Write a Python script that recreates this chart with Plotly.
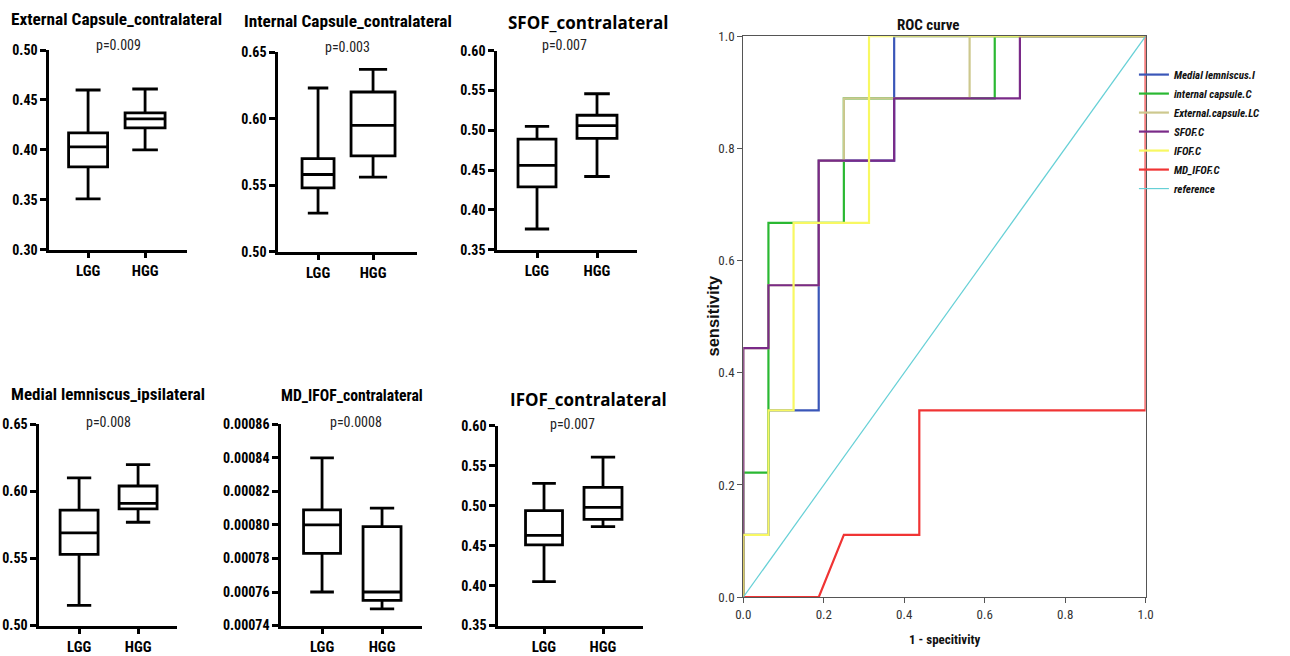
import plotly.graph_objects as go

# Figure fills the 1290x656 window; the page keeps the browser's default 8px body
# margin, so the captured page (1306x672) is shrunk back to the window size.
# Layout positions below are given in window pixels and converted here.
FW, FH, PAD = 1290, 656, 8
SX = FW / (FW + 2 * PAD)
SY = FH / (FH + 2 * PAD)


def px_x(p):
    return (p / SX - PAD) / FW


def px_y(p):
    return 1 - (p / SY - PAD) / FH


NARROW = "Roboto Condensed, Liberation Sans Narrow, Arial Narrow, Liberation Sans, Arial, sans-serif"
WIDE = "Open Sans, Noto Sans, Liberation Sans, Arial, sans-serif"
PLAIN = "Liberation Sans, Arial, sans-serif"

groups = ["LGG", "HGG"]

# five-number summaries per tract: [min, Q1, median, Q3, max]
ec_lgg = [0.351, 0.383, 0.403, 0.417, 0.460]
ec_hgg = [0.400, 0.422, 0.431, 0.437, 0.461]
ic_lgg = [0.529, 0.548, 0.558, 0.570, 0.623]
ic_hgg = [0.556, 0.572, 0.595, 0.620, 0.637]
sfof_lgg = [0.376, 0.429, 0.456, 0.489, 0.505]
sfof_hgg = [0.442, 0.490, 0.506, 0.519, 0.546]
ml_lgg = [0.515, 0.553, 0.569, 0.586, 0.610]
ml_hgg = [0.577, 0.587, 0.591, 0.604, 0.620]
md_ifof_lgg = [0.000760, 0.000783, 0.000800, 0.000809, 0.000840]
md_ifof_hgg = [0.000750, 0.000755, 0.000760, 0.000799, 0.000810]
ifof_lgg = [0.405, 0.451, 0.463, 0.494, 0.528]
ifof_hgg = [0.474, 0.483, 0.498, 0.523, 0.561]

panel_titles = ["External Capsule_contralateral", "Internal Capsule_contralateral",
                "SFOF_contralateral", "Medial lemniscus_ipsilateral",
                "MD_IFOF_contralateral", "IFOF_contralateral"]
p_values = ["p=0.009", "p=0.003", "p=0.007", "p=0.008", "p=0.0008", "p=0.007"]

# ROC curves: 1 - specificity (x) and sensitivity (y)
roc_names = ["Medial lemniscus.I", "internal capsule.C", "External.capsule.LC",
             "SFOF.C", "IFOF.C", "MD_IFOF.C", "reference"]
fpr_ml = [0, 0, 0.0625, 0.0625, 0.125, 0.1875, 0.1875, 0.375, 0.375, 1.0]
tpr_ml = [0, 0.111, 0.111, 0.333, 0.333, 0.333, 0.778, 0.778, 1.0, 1.0]
fpr_ic = [0, 0, 0.0625, 0.0625, 0.25, 0.25, 0.625, 0.625, 1.0]
tpr_ic = [0, 0.222, 0.222, 0.667, 0.667, 0.889, 0.889, 1.0, 1.0]
fpr_ec = [0, 0, 0.0625, 0.0625, 0.1875, 0.1875, 0.25, 0.25, 0.5625, 0.5625, 1.0]
tpr_ec = [0, 0.444, 0.444, 0.556, 0.556, 0.778, 0.778, 0.889, 0.889, 1.0, 1.0]
fpr_sfof = [0, 0, 0.0625, 0.0625, 0.1875, 0.1875, 0.375, 0.375, 0.6875, 0.6875, 1.0]
tpr_sfof = [0, 0.444, 0.444, 0.556, 0.556, 0.778, 0.778, 0.889, 0.889, 1.0, 1.0]
fpr_ifof = [0, 0, 0.0625, 0.0625, 0.125, 0.125, 0.3125, 0.3125, 1.0]
tpr_ifof = [0, 0.111, 0.111, 0.333, 0.333, 0.667, 0.667, 1.0, 1.0]
fpr_md = [0, 0.1875, 0.25, 0.4375, 0.4375, 1.0, 1.0]
tpr_md = [0, 0, 0.111, 0.111, 0.333, 0.333, 1.0]
fpr_ref = [0, 1]
tpr_ref = [0, 1]

roc_colors = ["#3a56b8", "#2ab832", "#cdc88e", "#7a2a88", "#f8f862", "#f03434", "#66d0d6"]

# ---- box panel geometry (window pixels): axis x0/x1, LGG/HGG centres, y-axis top/bottom
box_layout = [
    dict(x0=49, x1=187, c0=88, c1=145, yt=50, yb=250, yr=[0.30, 0.50], dt=0.05, fmt=".2f",
         bw=(39, 40), tpos=(116, 19), tfont=(NARROW, 17.3), ppos=(118, 45)),
    dict(x0=278, x1=417, c0=318, c1=373, yt=52, yb=252, yr=[0.50, 0.65], dt=0.05, fmt=".2f",
         bw=(32, 44), tpos=(348, 21), tfont=(NARROW, 17.3), ppos=(347, 47)),
    dict(x0=497, x1=637, c0=537, c1=597, yt=50.7, yb=250, yr=[0.35, 0.60], dt=0.05, fmt=".2f",
         bw=(38, 40), tpos=(588, 22), tfont=(WIDE, 17), ppos=(564, 45)),
    dict(x0=39, x1=177, c0=79, c1=138, yt=425, yb=626.7, yr=[0.50, 0.65], dt=0.05, fmt=".2f",
         bw=(38, 38), tpos=(108, 395), tfont=(NARROW, 17), ppos=(108, 423)),
    dict(x0=281, x1=422, c0=322, c1=382, yt=425, yb=626.7, yr=[0.00074, 0.00086], dt=0.00002,
         fmt=".5f", bw=(37, 38), tpos=(352, 396), tfont=(NARROW, 15.7), ppos=(356, 423)),
    dict(x0=498, x1=643, c0=544, c1=603, yt=426.7, yb=626.7, yr=[0.35, 0.60], dt=0.05, fmt=".2f",
         bw=(37, 38), tpos=(588, 400), tfont=(WIDE, 17), ppos=(572, 425)),
]
box_data = [(ec_lgg, ec_hgg), (ic_lgg, ic_hgg), (sfof_lgg, sfof_hgg),
            (ml_lgg, ml_hgg), (md_ifof_lgg, md_ifof_hgg), (ifof_lgg, ifof_hgg)]

fig = go.Figure()
layout = dict(width=FW, height=FH, margin=dict(l=0, r=0, t=0, b=0),
              paper_bgcolor="white", plot_bgcolor="white",
              font=dict(family=NARROW, color="black"), annotations=[])

for i, (geo, (lgg, hgg)) in enumerate(zip(box_layout, box_data)):
    n = i + 1
    xa, ya = f"x{n}", f"y{n}"
    sp = geo["c1"] - geo["c0"]
    for k, (vals, grp) in enumerate(zip((lgg, hgg), groups)):
        fig.add_trace(go.Box(
            x=[k], lowerfence=[vals[0]], q1=[vals[1]], median=[vals[2]],
            q3=[vals[3]], upperfence=[vals[4]], name=grp,
            width=geo["bw"][k] / sp, whiskerwidth=0.64,
            boxpoints=False, fillcolor="rgba(255,255,255,0)",
            line=dict(color="black", width=2.8),
            xaxis=xa, yaxis=ya, showlegend=False, hoverinfo="skip"))
    axis_common = dict(showgrid=False, zeroline=False, showline=True, linecolor="black",
                       linewidth=2.5, ticks="outside", ticklen=6, tickwidth=2.5,
                       tickcolor="black")
    layout[f"xaxis{n}"] = dict(
        domain=[px_x(geo["x0"]), px_x(geo["x1"])], anchor=ya,
        range=[(geo["x0"] - geo["c0"]) / sp, (geo["x1"] - geo["c0"]) / sp],
        tickvals=[0, 1], ticktext=groups,
        tickfont=dict(size=15, family=NARROW, weight="bold"), **axis_common)
    layout[f"yaxis{n}"] = dict(
        domain=[px_y(geo["yb"]), px_y(geo["yt"])], anchor=xa,
        range=geo["yr"], dtick=geo["dt"], tick0=geo["yr"][0], tickformat=geo["fmt"],
        tickfont=dict(size=14, family=NARROW, weight="bold"), **axis_common)
    layout["annotations"].append(dict(
        text=panel_titles[i], xref="paper", yref="paper",
        x=px_x(geo["tpos"][0]), y=px_y(geo["tpos"][1]), showarrow=False,
        xanchor="center", yanchor="middle",
        font=dict(size=geo["tfont"][1], family=geo["tfont"][0], weight="bold", color="black")))
    layout["annotations"].append(dict(
        text=p_values[i], xref="paper", yref="paper",
        x=px_x(geo["ppos"][0]), y=px_y(geo["ppos"][1]), showarrow=False,
        xanchor="center", yanchor="middle",
        font=dict(size=14, family=NARROW, color="#222")))

# ---- ROC panel
roc_x = [fpr_ml, fpr_ic, fpr_ec, fpr_sfof, fpr_ifof, fpr_md, fpr_ref]
roc_y = [tpr_ml, tpr_ic, tpr_ec, tpr_sfof, tpr_ifof, tpr_md, tpr_ref]
for name, xs, ys, col in zip(roc_names, roc_x, roc_y, roc_colors):
    fig.add_trace(go.Scatter(
        x=xs, y=ys, mode="lines", name=name,
        line=dict(color=col, width=1.2 if name == "reference" else 2.2),
        xaxis="x7", yaxis="y7", hoverinfo="skip"))

roc_axis = dict(showgrid=False, zeroline=False, showline=True, linecolor="#555",
                linewidth=1.2, mirror=True, ticks="outside", ticklen=5, tickwidth=1.2,
                tickcolor="#555", range=[0, 1], dtick=0.2, tickformat=".1f",
                tickfont=dict(size=13, family=NARROW, color="#333"))
layout["xaxis7"] = dict(domain=[px_x(743.3), px_x(1145.7)], anchor="y7", **roc_axis)
layout["yaxis7"] = dict(domain=[px_y(598.3), px_y(36)], anchor="x7", **roc_axis)
layout["annotations"].append(dict(
    text="1 - specitivity", xref="paper", yref="paper", x=px_x(945), y=px_y(641),
    showarrow=False, xanchor="center", yanchor="middle",
    font=dict(size=13, family=NARROW, weight="bold", color="#111")))
layout["annotations"].append(dict(
    text="sensitivity", xref="paper", yref="paper", x=px_x(713), y=px_y(316),
    textangle=-90, showarrow=False, xanchor="center", yanchor="middle",
    font=dict(size=16.5, family=PLAIN, weight="bold", color="#111")))
layout["annotations"].append(dict(
    text="ROC curve", xref="paper", yref="paper", x=px_x(929), y=px_y(25),
    showarrow=False, xanchor="center", yanchor="middle",
    font=dict(size=15, family=NARROW, weight="bold", color="#111")))
layout["legend"] = dict(x=px_x(1134), y=px_y(60), xanchor="left", yanchor="top",
                        bgcolor="rgba(0,0,0,0)", borderwidth=0,
                        font=dict(size=11, family=NARROW, weight="bold", style="italic",
                                  color="#111"),
                        tracegroupgap=0)
layout["showlegend"] = True

fig.update_layout(**layout)
fig.write_html("out.html")
